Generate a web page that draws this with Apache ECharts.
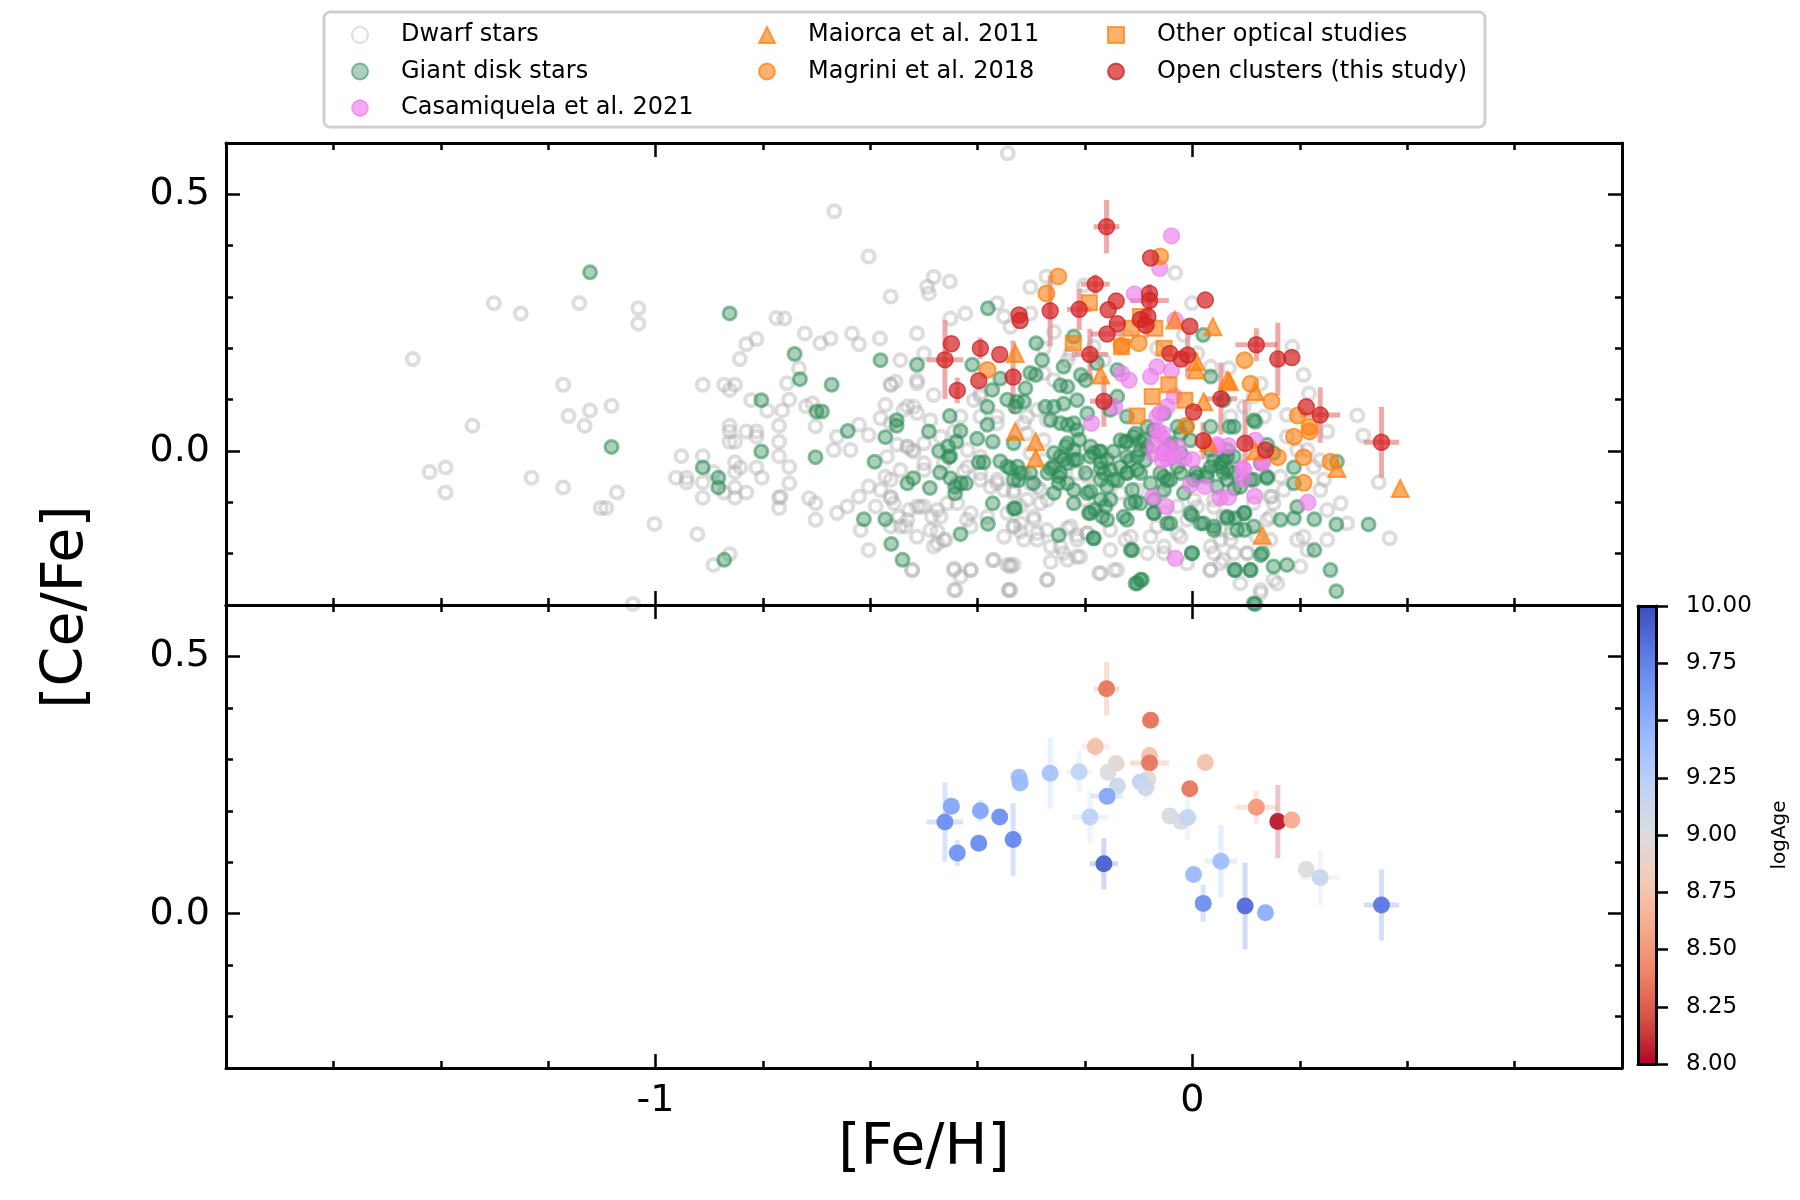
<!DOCTYPE html>
<html lang="en">
<head>
<meta charset="UTF-8">
<title>[Ce/Fe] vs [Fe/H]</title>
<script src="https://cdn.jsdelivr.net/npm/echarts@6/dist/echarts.min.js"></script>
<style>html,body{margin:0;padding:0;background:#fff}</style>
</head>
<body>
<div id="main" style="width:1800px;height:1200px;"></div>
<script>
// [Fe/H], [Ce/Fe] pairs
var dwarfStars = [
  [-1.452,0.179],[-1.301,0.288],[-1.251,0.268],[-1.142,0.288],[-1.032,0.278],[-1.032,0.248],[-0.775,0.259],[-0.812,0.218],
  [-0.831,0.208],[-0.843,0.179],[-1.172,0.129],[-1.082,0.088],[-1.122,0.079],[-1.162,0.068],[-1.132,0.049],[-1.341,0.049],
  [-1.421,-0.041],[-1.391,-0.032],[-1.391,-0.081],[-1.231,-0.052],[-1.172,-0.071],[-1.072,-0.081],[-1.102,-0.111],[-1.092,-0.111],
  [-1.002,-0.142],[-0.922,-0.162],[-0.862,-0.201],[-0.892,-0.222],[-1.042,-0.298],[-0.912,0.129],[-0.872,0.129],[-0.852,0.129],
  [-0.862,0.119],[-0.822,0.099],[-0.764,0.079],[-0.792,0.079],[-0.862,0.049],[-0.862,0.038],[-0.831,0.038],[-0.812,0.038],
  [-0.812,0.028],[-0.77,0.049],[-0.862,0.018],[-0.852,0.018],[-0.77,0.018],[-0.77,-0.01],[-0.952,-0.01],[-0.912,-0.01],
  [-0.962,-0.052],[-0.942,-0.052],[-0.942,-0.061],[-0.912,-0.061],[-0.892,-0.041],[-0.852,-0.022],[-0.842,-0.032],[-0.852,-0.041],
  [-0.812,-0.032],[-0.802,-0.052],[-0.912,-0.091],[-0.872,-0.081],[-0.852,-0.091],[-0.852,-0.071],[-0.831,-0.081],[-0.77,-0.091],
  [-0.77,-0.111],[-0.344,0.58],[-0.667,0.467],
  [-0.603,0.379],[-0.482,0.339],[-0.494,0.32],[-0.491,0.307],[-0.452,0.33],[-0.562,0.301],[-0.76,0.258],[-0.423,0.268],
  [-0.451,0.258],[-0.364,0.288],[-0.351,0.262],[-0.722,0.229],[-0.693,0.21],[-0.674,0.219],[-0.634,0.229],[-0.621,0.208],
  [-0.582,0.219],[-0.513,0.229],[-0.544,0.177],[-0.5,0.19],[-0.513,0.138],[-0.562,0.129],[-0.553,0.135],[-0.755,0.132],
  [-0.733,0.161],[-0.751,0.1],[-0.72,0.087],[-0.708,0.093],[-0.702,0.048],[-0.662,0.028],[-0.668,0.002],[-0.637,0.002],
  [-0.621,0.051],[-0.603,0.031],[-0.581,0.064],[-0.562,0.054],[-0.531,0.087],[-0.513,0.074],[-0.522,0.002],[-0.531,0.009],
  [-0.751,-0.031],[-0.751,-0.063],[-0.767,-0.089],[-0.714,-0.092],[-0.702,-0.102],[-0.702,-0.134],[-0.662,-0.121],[-0.643,-0.108],
  [-0.621,-0.089],[-0.618,-0.154],[-0.603,-0.069],[-0.59,-0.108],[-0.603,-0.193],[-0.581,-0.076],[-0.562,-0.092],[-0.562,-0.056],
  [-0.556,-0.102],[-0.547,-0.128],[-0.528,-0.115],[-0.513,-0.108],[-0.5,-0.108],[-0.485,-0.128],[-0.475,-0.157],[-0.475,-0.18],
  [-0.46,-0.173],[-0.444,-0.232],[-0.441,-0.271],[-0.413,-0.232],[-0.372,-0.213],[-0.339,-0.222],[-0.342,-0.271],[-0.522,-0.232],
  [-0.562,-0.147],[-0.534,-0.147],[-0.5,0.015],[-0.469,0.028],[-0.444,0.038],[-0.419,0.002],[-0.395,-0.011],[-0.364,-0.063],
  [-0.419,-0.031],[-0.5,-0.024],[-0.457,-0.102],[-0.438,-0.063],[-0.395,0.067],[-0.364,0.054],[-0.395,0.106],[-0.413,-0.121],
  [-0.382,-0.128],[-0.351,-0.167],[-0.333,-0.147],[-0.333,-0.076],
  [-0.562,0.129],[-0.513,0.132],[-0.482,0.109],[-0.519,0.086],[-0.538,0.08],[-0.572,0.09],[-0.55,0.012],[-0.531,0.008],
  [-0.519,-0.001],[-0.569,-0.011],[-0.544,-0.037],[-0.572,-0.05],[-0.562,-0.089],[-0.507,-0.109],[-0.531,-0.134],[-0.544,-0.147],
  [-0.488,-0.154],[-0.469,-0.128],[-0.463,-0.173],[-0.482,-0.186],[-0.513,-0.167],[-0.475,-0.115],[-0.438,-0.102],[-0.42,-0.134],
  [-0.413,-0.147],[-0.364,-0.056],[-0.395,-0.056],[-0.376,-0.07],[-0.351,-0.076],[-0.345,-0.121],[-0.32,-0.141],[-0.296,-0.128],
  [-0.283,-0.102],[-0.308,-0.095],[-0.32,-0.157],[-0.289,-0.173],[-0.271,-0.154],[-0.246,-0.186],[-0.233,-0.212],[-0.264,-0.216],
  [-0.271,-0.251],[-0.37,-0.212],[-0.345,-0.222],[-0.333,-0.222],[-0.444,-0.229],[-0.432,-0.245],[-0.413,-0.232],[-0.444,-0.271],
  [-0.522,-0.232],[-0.342,-0.271],[-0.488,0.06],[-0.432,0.067],[-0.407,0.099],[-0.395,0.112],[-0.364,0.067],[-0.308,0.067],
  [-0.289,0.08],[-0.271,0.06],[-0.426,-0.04],[-0.395,-0.043],[-0.5,-0.037],[-0.463,-0.024],[-0.302,-0.063],[-0.283,-0.076],
  [-0.215,-0.164],[-0.233,-0.151],[-0.215,-0.206],
  [-0.032,0.347],[-0.272,0.34],[-0.302,0.319],[-0.202,0.323],[-0.001,0.288],[-0.302,0.268],[-0.258,0.232],[-0.277,0.2],
  [-0.233,0.177],[-0.339,0.242],[-0.277,0.152],[-0.258,0.138],[-0.314,0.054],[-0.308,0.034],[-0.277,0.021],[-0.302,-0.004],
  [-0.277,-0.018],[-0.314,-0.043],[-0.289,-0.07],[-0.333,-0.082],[-0.32,-0.108],[-0.295,-0.134],[-0.333,-0.147],[-0.314,-0.173],
  [-0.289,-0.16],[-0.264,-0.186],[-0.227,-0.147],[-0.215,-0.173],[-0.24,-0.199],[-0.196,-0.16],[-0.174,-0.238],[-0.146,-0.232],
  [-0.153,-0.193],[-0.125,-0.173],[-0.078,-0.167],[-0.053,-0.186],[-0.028,-0.16],[-0.01,-0.219],[0.034,-0.186],[0.058,-0.212],
  [0.034,-0.232],[-0.339,-0.225],[-0.27,-0.251],[-0.339,-0.271],[-0.215,-0.043],[-0.196,-0.05],[-0.27,-0.095],[-0.202,-0.095],
  [-0.134,-0.082],[-0.103,-0.076],[-0.06,-0.082],[-0.028,-0.108],[0.003,-0.095],[0.04,-0.095],[0.058,-0.128],[0.071,-0.16],
  [-0.227,0.19],[-0.184,0.203],[-0.165,0.177],[-0.122,0.223],[-0.066,0.2],[-0.016,0.226],[0.034,0.164],[0.009,0.19],
  [-0.171,-0.238],[-0.14,-0.232],[-0.115,-0.167],[-0.066,-0.147],[-0.084,-0.199],[-0.053,-0.199],[-0.022,-0.167],[-0.01,-0.134],
  [0.04,-0.199],[0.052,-0.173],[0.033,-0.232],[0.077,-0.199],[0.102,-0.199],[0.127,-0.277],[0.151,-0.251],[0.148,-0.089],
  [0.139,-0.134],[0.04,-0.109],[0.009,-0.109],[-0.196,-0.16],[-0.153,-0.154],[-0.053,-0.121],[-0.209,-0.206],
  [0.186,0.203],[0.207,0.148],[0.217,0.112],[0.307,0.069],[0.318,0.03],[0.347,-0.061],[0.367,-0.17],[0.251,0.038],
  [0.176,0.07],[0.068,0.161],[0.127,0.131],[0.226,-0.031],[0.245,-0.056],[0.238,-0.076],[0.276,-0.102],[0.251,-0.115],
  [0.288,-0.141],[0.207,-0.167],[0.195,-0.173],[0.251,-0.173],[0.214,-0.193],[0.201,-0.225],[0.158,-0.258],[0.127,-0.271],
  [0.089,-0.258],[0.052,-0.219],[0.102,-0.199],[0.145,-0.128],[0.151,-0.102],[0.17,-0.076],[0.145,-0.173],[0.12,-0.167],
  [0.071,-0.173],[0.052,-0.154],[0.238,-0.018],[0.195,0.002],[0.176,0.028],[0.214,0.002],[0.164,-0.05],[0.145,-0.089],
  [0.114,-0.102],[0.089,-0.128],[0.114,0.106],[0.096,0.086],[0.071,0.067],[0.133,0.067]
];

var giantStars = [
  [-1.122,0.348],[-0.862,0.268],[-1.082,0.008],[-0.803,0.099],[-0.803,-0.001],[-0.912,-0.032],[-0.883,-0.052],[-0.883,-0.071],
  [-0.872,-0.212],
  [-0.381,0.278],[-0.741,0.189],[-0.731,0.14],[-0.672,0.129],[-0.581,0.177],[-0.513,0.168],[-0.41,0.168],[-0.70,0.077],
  [-0.69,0.077],[-0.702,-0.012],[-0.642,0.039],[-0.572,0.027],[-0.551,0.06],[-0.551,0.049],[-0.592,-0.021],[-0.491,0.038],
  [-0.452,0.068],[-0.432,0.039],[-0.472,0.0],[-0.455,0.009],[-0.451,-0.01],[-0.44,0.018],[-0.401,0.024],[-0.382,0.086],
  [-0.382,0.051],[-0.372,0.018],[-0.373,0.119],[-0.358,0.141],[-0.398,-0.022],[-0.389,-0.022],[-0.47,-0.042],[-0.451,-0.053],
  [-0.431,-0.063],[-0.422,-0.063],[-0.442,-0.083],[-0.442,-0.07],[-0.531,-0.063],[-0.52,-0.053],[-0.489,-0.072],[-0.612,-0.133],
  [-0.572,-0.133],[-0.561,-0.181],[-0.54,-0.212],[-0.432,-0.162],[-0.381,-0.142],[-0.372,-0.102],[-0.333,-0.112],[-0.339,-0.034],
  [-0.345,-0.03],[-0.333,-0.056],[-0.333,0.015],[-0.454,-0.012],[-0.233,0.051],[-0.221,0.054],[-0.327,0.096],[-0.345,0.1],
  [-0.246,-0.011],[-0.233,-0.024],[-0.221,-0.017],[-0.258,-0.031],[-0.258,-0.082],[-0.221,0.002],[-0.233,0.015],[-0.358,-0.02],
  [-0.291,0.21],[-0.28,0.177],[-0.292,0.148],[-0.274,0.086],[-0.246,0.128],[-0.233,0.125],[-0.24,0.092],[-0.311,0.122],
  [-0.314,0.096],[-0.33,0.086],[-0.326,-0.03],[-0.32,-0.043],[-0.33,-0.112],[-0.221,0.223],[-0.208,0.148],[-0.264,0.06],
  [-0.246,0.054],[-0.236,0.009],[-0.258,-0.004],[-0.24,-0.017],[-0.264,-0.034],[-0.249,-0.063],[-0.233,-0.063],[-0.221,-0.076],
  [-0.249,-0.05],[-0.215,0.041],[-0.211,0.022],[-0.19,0.009],[-0.174,-0.001],[-0.171,-0.034],[-0.159,-0.017],[-0.19,-0.079],
  [-0.193,-0.121],[-0.221,-0.102],[-0.159,-0.069],[-0.162,-0.108],[-0.168,-0.128],[-0.249,-0.164],[-0.184,-0.17],[-0.14,0.106],
  [-0.153,0.08],[-0.122,0.067],[-0.106,0.034],[-0.125,0.018],[-0.097,0.002],[-0.088,-0.018],[-0.103,-0.037],[-0.122,-0.043],
  [-0.14,-0.057],[-0.112,-0.076],[-0.128,-0.128],[-0.106,-0.099],[-0.078,-0.063],[-0.072,-0.121],[-0.047,-0.141],[-0.047,-0.057],
  [-0.022,-0.043],[-0.06,-0.043],[0.006,-0.043],[0.034,-0.031],[0.058,-0.043],[-0.004,-0.121],[0.021,-0.141],[0.04,-0.154],
  [-0.001,-0.199],[-0.112,-0.193],[-0.103,-0.258],[-0.094,-0.251],[-0.24,0.164],[-0.199,0.138],[-0.14,0.158],[-0.178,0.171],
  [-0.053,0.073],[-0.028,0.047],[0.034,0.047],[0.034,0.145],[0.058,0.099],[0.065,-0.011],[-0.004,0.021],[0.034,0.002],
  [0.02,0.226],[-0.246,-0.043],[-0.296,-0.063],[-0.184,-0.004],[-0.165,-0.043],[-0.153,-0.095],[-0.181,-0.114],[-0.134,0.021],
  [-0.116,-0.018],[-0.09,0.021],[-0.072,0.041],[-0.041,0.009],[0.027,-0.05],[0.046,-0.069],[0.009,-0.05],[0.058,-0.018],
  [-0.215,-0.017],[-0.27,-0.043],[-0.302,-0.043],[-0.324,-0.057],[-0.196,0.073],[-0.215,0.099],[-0.258,0.086],[-0.302,0.152],
  [-0.171,-0.001],[-0.19,-0.011],[-0.199,-0.043],[-0.171,-0.021],[-0.147,-0.001],[-0.122,0.018],[-0.109,0.028],[-0.097,0.018],
  [-0.084,0.008],[-0.122,-0.011],[-0.103,-0.011],[-0.134,-0.031],[-0.153,-0.037],[-0.122,-0.043],[-0.097,-0.043],[-0.147,-0.056],
  [-0.171,-0.056],[-0.196,-0.082],[-0.171,-0.095],[-0.19,-0.121],[-0.159,-0.134],[-0.122,-0.134],[-0.097,-0.102],[-0.072,-0.121],
  [-0.053,-0.05],[-0.053,-0.076],[-0.041,-0.056],[-0.028,-0.031],[-0.022,-0.004],[-0.041,0.015],[-0.022,0.034],[-0.01,0.047],
  [-0.016,-0.082],[0.002,-0.056],[0.027,-0.043],[0.04,-0.017],[0.052,-0.031],[0.065,-0.056],[0.077,-0.043],[0.089,-0.07],
  [0.114,-0.056],[0.139,-0.05],[0.127,-0.024],[0.151,-0.004],[0.114,0.06],[0.077,0.047],[-0.001,-0.125],[0.015,-0.141],
  [0.04,-0.147],[0.065,-0.128],[0.083,-0.154],[0.096,-0.121],[0.114,-0.147],[0.164,-0.134],[-0.041,-0.141],[-0.072,-0.095],
  [-0.115,-0.102],[-0.184,-0.17],[-0.115,-0.193],[-0.097,-0.251],[-0.106,-0.258],[-0.001,-0.199],[0.08,-0.232],[0.108,-0.232],
  [0.13,-0.199],[0.151,-0.225],[0.114,-0.297],[-0.084,0.047],
  [0.117,0.057],[0.139,0.012],[0.139,-0.053],[0.189,-0.032],[0.189,-0.063],[0.195,-0.109],[0.189,-0.131],[0.227,-0.133],
  [0.268,-0.143],[0.328,-0.143],[0.269,-0.021],[0.078,-0.073],[0.097,-0.121],[0.065,-0.131],[0.08,-0.131],[0.097,-0.154],
  [0.127,-0.203],[0.176,-0.222],[0.227,-0.193],[0.257,-0.232],[0.268,-0.273],[0.078,-0.232],[0.108,-0.232],[0.117,-0.298],
  [0.069,0.047],[0.065,0.002],[0.077,-0.011],[0.065,-0.037],[0.052,-0.024],[0.108,-0.056]
];

var casamiquela2021 = [
  [-0.039,0.419],[-0.061,0.356],[-0.108,0.306],[-0.032,0.255],[-0.132,0.151],[-0.118,0.138],[-0.066,0.164],[-0.078,0.145],
  [-0.039,0.157],[-0.145,0.086],[-0.188,0.054],[-0.066,0.067],[-0.056,0.034],[-0.072,-0.005],[-0.047,-0.014],[-0.016,-0.014],
  [0.0,-0.017],[-0.047,0.086],[-0.004,-0.066],[0.023,-0.069],[-0.074,-0.089],[-0.049,-0.108],[0.051,-0.091],[0.047,0.008],
  [-0.032,-0.209],[0.117,0.021],[0.13,-0.021],[0.093,-0.034],[0.093,-0.056],[0.116,-0.088],[0.215,-0.1],[0.067,0.01],
  [0.067,-0.09],[-0.06,0.03],[-0.066,0.04],[-0.072,0.012],[-0.041,0.0],[-0.056,-0.018],[-0.034,0.107],
  [-0.06,0.074],[-0.047,0.008],[-0.028,0.008],[-0.053,-0.004],[-0.035,-0.011],[0.096,-0.037],[0.13,-0.024],[0.046,0.012]
];

var maiorca2011 = [
  [-0.33,0.19],[-0.33,0.038],[-0.292,0.018],[-0.292,-0.014],[-0.171,0.148],[-0.033,0.255],[0.038,0.242],[0.007,0.174],
  [0.007,0.158],[0.021,0.096],[0.065,0.138],[0.03,0.016],[0.069,0.135],[0.117,0.116],[0.117,0.0],[0.269,-0.034],
  [0.387,-0.073],[0.13,-0.164]
];

var magrini2018 = [
  [-0.25,0.34],[-0.272,0.307],[-0.06,0.379],[-0.132,0.205],[-0.1,0.21],[-0.012,0.049],[-0.382,0.158],[0.097,0.177],
  [0.108,0.131],[0.147,0.097],[0.196,0.069],[0.218,0.047],[0.218,0.038],[0.189,0.028],[0.159,-0.012],[0.207,-0.012],
  [0.257,-0.021],[0.207,-0.062]
];

var otherOptical = [
  [-0.192,0.289],[-0.222,0.21],[-0.132,0.203],[-0.114,0.239],[-0.097,0.262],[-0.07,0.239],[-0.053,0.2],[-0.044,0.129],
  [-0.075,0.106],[-0.103,0.068],[-0.014,0.099]
];

// open clusters (this study)
var clusterFeH = [-0.160,-0.078,-0.181,-0.142,-0.157,-0.080,-0.080,-0.083,-0.097,-0.087,-0.140,-0.159,-0.211,-0.265,-0.323,-0.321,
  -0.191,-0.005,0.024,-0.042,-0.021,-0.009,0.119,0.159,0.185,-0.449,-0.461,-0.395,-0.359,-0.438,-0.398,-0.334,
  -0.165,0.053,0.002,0.020,0.098,0.136,0.212,0.238,0.352];
var clusterCeFe = [0.437,0.376,0.325,0.292,0.275,0.307,0.293,0.262,0.256,0.245,0.248,0.228,0.276,0.273,0.265,0.254,
  0.188,0.243,0.294,0.190,0.179,0.187,0.207,0.179,0.182,0.209,0.178,0.200,0.188,0.118,0.137,0.144,
  0.097,0.102,0.076,0.020,0.015,0.002,0.086,0.070,0.017];
var clusterFeHErr = [0.024,0,0.027,0,0,0,0.036,0,0,0.02,0.015,0.03,0.023,0,0,0,
  0.034,0,0,0,0,0.02,0.039,0,0,0,0.034,0,0,0,0,0,
  0.026,0.03,0,0,0,0,0,0.037,0.033];
var clusterCeFeErr = [0.052,0,0.019,0,0,0,0.032,0,0,0.025,0,0,0.04,0.069,0,0,
  0.05,0,0,0,0,0.044,0.032,0.071,0,0,0.077,0.021,0,0.025,0,0.071,
  0.05,0.07,0,0.036,0.084,0,0,0.054,0.069];
var clusterLogAge = [8.35,8.33,8.72,8.95,9.0,8.75,8.35,8.98,9.2,9.12,9.12,9.55,9.2,9.35,9.4,9.42,
  9.22,8.35,8.75,9.05,9.02,9.18,8.5,8.05,8.6,9.55,9.68,9.55,9.68,9.66,9.7,9.72,
  9.9,9.4,9.42,9.68,9.86,9.5,9.0,9.15,9.8];

// coolwarm, reversed (low logAge = red)
var coolwarmR = ['#b40426','#d65244','#ee8468','#f7ac8e','#f2cbb7','#dddcdc','#c0d4f5','#9ebeff','#7b9ff9','#5a78e4','#3b4cc0'];

var FONT = 'DejaVu Sans';
var X_MIN = -1.8, X_MAX = 0.8, Y_MIN = -0.3, Y_MAX = 0.6;

var clusters = clusterFeH.map(function (x, i) {
  return [x, clusterCeFe[i], clusterLogAge[i], clusterFeHErr[i], clusterCeFeErr[i]];
});

var tickStyle = { color: '#000', width: 2.5 };
var lineStyle = { color: '#000', width: 3 };

function xAx(grid, pos, major, labels) {
  var ax = {
    type: 'value', gridIndex: grid, position: pos, min: X_MIN, max: X_MAX, z: 10,
    splitLine: { show: false },
    axisLine: { show: !major, onZero: false, lineStyle: lineStyle },
    axisTick: { show: true, inside: true, length: major ? 14 : 7, lineStyle: tickStyle },
    axisLabel: { show: false }
  };
  if (major) ax.axisTick.customValues = [-1, 0];
  else ax.interval = 0.2;
  if (labels) ax.axisLabel = {
    show: true, fontFamily: FONT, fontSize: 38, color: '#000', margin: 14,
    formatter: function (v) {
      var r = Math.round(v * 10) / 10;
      return r === -1 ? '-1' : (r === 0 ? '0' : '');
    }
  };
  return ax;
}

function yAx(grid, pos, major, labels) {
  var ax = {
    type: 'value', gridIndex: grid, position: pos, min: Y_MIN, max: Y_MAX, z: 10,
    splitLine: { show: false },
    axisLine: { show: !major, onZero: false, lineStyle: lineStyle },
    axisTick: { show: true, inside: true, length: major ? 14 : 7, lineStyle: tickStyle },
    axisLabel: { show: false }
  };
  if (major) ax.axisTick.customValues = [0, 0.5];
  else ax.interval = 0.1;
  if (labels) ax.axisLabel = {
    show: true, fontFamily: FONT, fontSize: 38, color: '#000', margin: 16,
    formatter: function (v) {
      var r = Math.round(v * 10) / 10;
      return r === 0.5 ? '0.5' : (r === 0 ? '0.0' : '');
    }
  };
  return ax;
}

function errBars(fixedColor, opacity) {
  return function (params, api) {
    var x = api.value(0), y = api.value(1), ex = api.value(3), ey = api.value(4);
    var stroke = fixedColor || api.visual('color');
    var kids = [];
    if (ex > 0) {
      var a = api.coord([x - ex, y]), b = api.coord([x + ex, y]);
      kids.push({ type: 'line', shape: { x1: a[0], y1: a[1], x2: b[0], y2: b[1] },
        style: { stroke: stroke, lineWidth: 5, opacity: opacity } });
    }
    if (ey > 0) {
      var c = api.coord([x, y + ey]), d = api.coord([x, y - ey]);
      kids.push({ type: 'line', shape: { x1: c[0], y1: c[1], x2: d[0], y2: d[1] },
        style: { stroke: stroke, lineWidth: 5, opacity: opacity } });
    }
    return { type: 'group', children: kids };
  };
}

function legendCol(left, names) {
  return {
    orient: 'vertical', left: left, top: 23, padding: 0, itemGap: 12.5,
    itemWidth: 16, itemHeight: 16, selectedMode: false, data: names,
    textStyle: { fontFamily: FONT, fontSize: 24, color: '#000', lineHeight: 24, padding: [0, 0, 0, 28] }
  };
}

var chart = echarts.init(document.getElementById('main'));
chart.setOption({
  animation: false,
  backgroundColor: '#fff',
  grid: [
    { left: 226, top: 143, width: 1396, height: 462, outerBoundsMode: 'none' },
    { left: 226, top: 605, width: 1396, height: 463, outerBoundsMode: 'none' },
    { left: 1638, top: 606, width: 18, height: 458, outerBoundsMode: 'none' }
  ],
  xAxis: [
    xAx(0, 'bottom', false, false),
    xAx(1, 'bottom', false, true),
    xAx(0, 'bottom', true), xAx(0, 'top', false), xAx(0, 'top', true),
    xAx(1, 'bottom', true), xAx(1, 'top', false), xAx(1, 'top', true),
    { type: 'value', gridIndex: 2, position: 'bottom', min: 0, max: 1, z: 10, splitLine: { show: false },
      axisLine: { show: true, onZero: false, lineStyle: lineStyle }, axisTick: { show: false }, axisLabel: { show: false } },
    { type: 'value', gridIndex: 2, position: 'top', min: 0, max: 1, z: 10, splitLine: { show: false },
      axisLine: { show: true, onZero: false, lineStyle: lineStyle }, axisTick: { show: false }, axisLabel: { show: false } }
  ],
  yAxis: [
    yAx(0, 'left', false, true),
    yAx(1, 'left', false, true),
    yAx(0, 'left', true), yAx(0, 'right', false), yAx(0, 'right', true),
    yAx(1, 'left', true), yAx(1, 'right', false), yAx(1, 'right', true),
    { type: 'value', gridIndex: 2, position: 'right', min: 8, max: 10, interval: 0.25, z: 10, splitLine: { show: false },
      axisLine: { show: true, onZero: false, lineStyle: lineStyle },
      axisTick: { show: true, inside: false, length: 12, lineStyle: tickStyle },
      axisLabel: { fontFamily: FONT, fontSize: 23, color: '#000', margin: 30,
        formatter: function (v) { return v.toFixed(2); } } },
    { type: 'value', gridIndex: 2, position: 'left', min: 8, max: 10, z: 10, splitLine: { show: false },
      axisLine: { show: true, onZero: false, lineStyle: lineStyle }, axisTick: { show: false }, axisLabel: { show: false } }
  ],
  visualMap: {
    type: 'continuous', min: 8, max: 10, dimension: 2, seriesIndex: [8, 9],
    inRange: { color: coolwarmR }, calculable: false, orient: 'vertical',
    left: 1638, top: 606, itemWidth: 18, itemHeight: 458, padding: 0, z: 4
  },
  legend: [
    legendCol(351, ['Dwarf stars', 'Giant disk stars', 'Casamiquela et al. 2021']),
    legendCol(758, ['Maiorca et al. 2011', 'Magrini et al. 2018']),
    legendCol(1107, ['Other optical studies', 'Open clusters (this study)'])
  ],
  graphic: [
    { type: 'rect', z: 0, shape: { x: 324, y: 12, width: 1161, height: 115, r: 6 },
      style: { fill: '#fff', stroke: '#d0d0d0', lineWidth: 3 } },
    { type: 'text', x: 924, y: 1149, z: 10,
      style: { text: '[Fe/H]', font: '57px "DejaVu Sans"', fill: '#000', align: 'center', verticalAlign: 'middle',
        textAlign: 'center', textVerticalAlign: 'middle' } },
    { type: 'text', x: 67, y: 607, rotation: Math.PI / 2, z: 10,
      style: { text: '[Ce/Fe]', font: '57px "DejaVu Sans"', fill: '#000', align: 'center', verticalAlign: 'middle',
        textAlign: 'center', textVerticalAlign: 'middle' } },
    { type: 'text', x: 1780, y: 835, rotation: Math.PI / 2, z: 10,
      style: { text: 'logAge', font: '20px "DejaVu Sans"', fill: '#000', align: 'center', verticalAlign: 'middle',
        textAlign: 'center', textVerticalAlign: 'middle' } }
  ],
  series: [
    { name: 'Dwarf stars', type: 'scatter', xAxisIndex: 0, yAxisIndex: 0, data: dwarfStars, symbol: 'circle', symbolSize: 12,
      itemStyle: { color: 'rgba(255,255,255,0)', borderColor: 'rgba(170,170,170,0.5)', borderWidth: 4 }, silent: true },
    { name: 'Giant disk stars', type: 'scatter', xAxisIndex: 0, yAxisIndex: 0, data: giantStars, symbol: 'circle', symbolSize: 13,
      itemStyle: { color: 'rgba(46,139,87,0.5)', borderColor: 'rgba(46,139,87,0.7)', borderWidth: 3 }, silent: true },
    { name: 'Casamiquela et al. 2021', type: 'scatter', xAxisIndex: 0, yAxisIndex: 0, data: casamiquela2021, symbol: 'circle', symbolSize: 16,
      itemStyle: { color: 'rgba(238,130,238,0.85)', borderColor: 'rgba(225,110,225,0.6)', borderWidth: 1.5 }, silent: true },
    { name: 'Maiorca et al. 2011', type: 'scatter', xAxisIndex: 0, yAxisIndex: 0, data: maiorca2011, symbol: 'triangle', symbolSize: 17,
      itemStyle: { color: 'rgba(255,127,14,0.8)', borderColor: 'rgba(255,127,14,0.9)', borderWidth: 2 }, silent: true },
    { name: 'Magrini et al. 2018', type: 'scatter', xAxisIndex: 0, yAxisIndex: 0, data: magrini2018, symbol: 'circle', symbolSize: 16,
      itemStyle: { color: 'rgba(255,127,14,0.75)', borderColor: 'rgba(255,127,14,0.9)', borderWidth: 2 }, silent: true },
    { name: 'Other optical studies', type: 'scatter', xAxisIndex: 0, yAxisIndex: 0, data: otherOptical, symbol: 'rect', symbolSize: 15,
      itemStyle: { color: 'rgba(255,127,14,0.75)', borderColor: 'rgba(255,127,14,0.9)', borderWidth: 2 }, silent: true },
    { name: 'cluster errors', type: 'custom', xAxisIndex: 0, yAxisIndex: 0, data: clusters, clip: false, silent: true,
      encode: { x: 0, y: 1 }, renderItem: errBars('rgb(214,39,40)', 0.4) },
    { name: 'Open clusters (this study)', type: 'scatter', xAxisIndex: 0, yAxisIndex: 0, data: clusters, symbol: 'circle', symbolSize: 16,
      encode: { x: 0, y: 1 },
      itemStyle: { color: 'rgba(214,39,40,0.92)', borderColor: 'rgba(200,30,35,0.9)', borderWidth: 1.5 }, silent: true },
    { name: 'age errors', type: 'custom', xAxisIndex: 1, yAxisIndex: 1, data: clusters, clip: false, silent: true,
      encode: { x: 0, y: 1 }, renderItem: errBars(null, 0.25) },
    { name: 'age', type: 'scatter', xAxisIndex: 1, yAxisIndex: 1, data: clusters, symbol: 'circle', symbolSize: 17,
      encode: { x: 0, y: 1 }, itemStyle: { opacity: 0.95 }, silent: true }
  ]
});
</script>
</body>
</html>
